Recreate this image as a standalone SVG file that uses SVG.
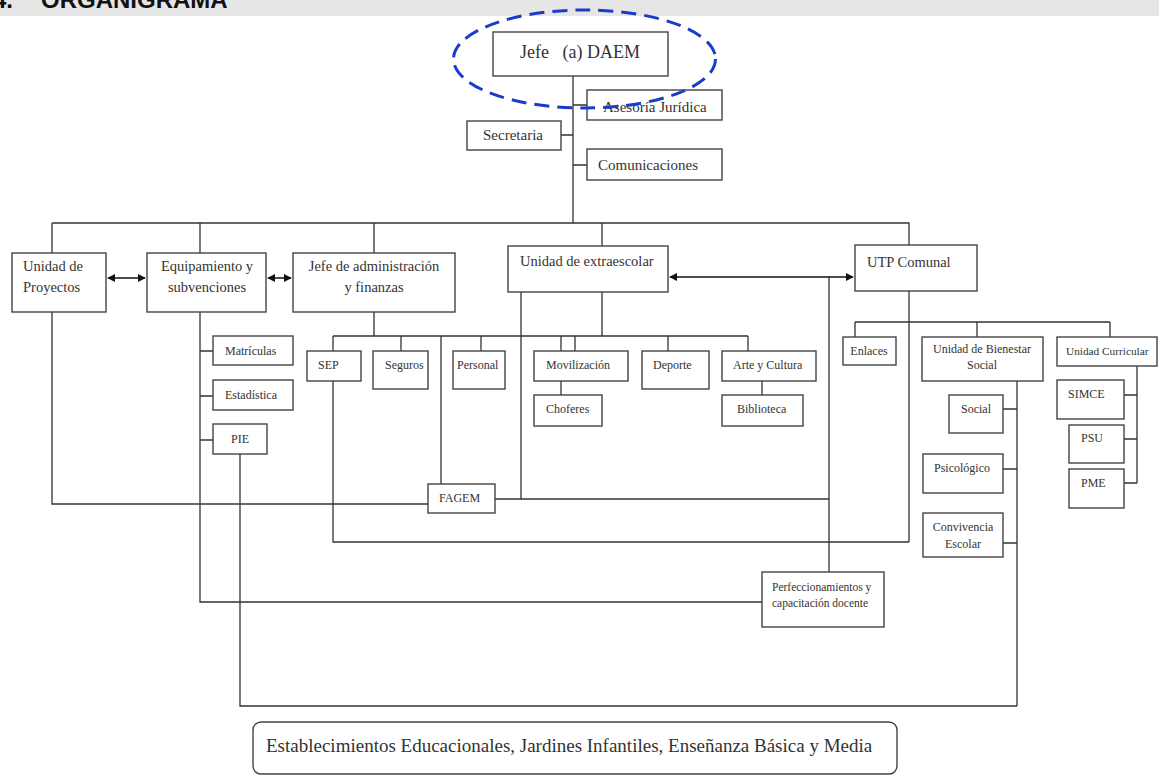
<svg xmlns="http://www.w3.org/2000/svg" width="1159" height="776" viewBox="0 0 1159 776">
<defs>
<marker id="ah" viewBox="0 0 10 10" refX="9" refY="5" markerWidth="8" markerHeight="8" markerUnits="userSpaceOnUse" orient="auto-start-reverse">
<path d="M0,0 L10,5 L0,10 z" fill="#111"/>
</marker>
<style>
.b{fill:#fff;stroke:#444;stroke-width:1.4}
.t{font-family:"Liberation Serif","Times New Roman",serif;fill:#333}
.L{font-size:14.5px}
.M{font-size:15px}
.S{font-size:12px}
.c{text-anchor:middle}
.ln{fill:none;stroke:#333;stroke-width:1.3}
.ar{fill:none;stroke:#111;stroke-width:1.5}
</style>
</defs>
<rect width="1159" height="776" fill="#fff"/>
<g id="header">
<rect x="0" y="0" width="1159" height="16" fill="#e6e6e6"/>
<text x="-7" y="8" font-family="Liberation Sans, Arial, sans-serif" font-size="24" font-weight="bold" fill="#111">4.</text>
<text x="41" y="8" font-family="Liberation Sans, Arial, sans-serif" font-size="24" font-weight="bold" fill="#111">ORGANIGRAMA</text>
</g>
<g id="connectors">
<path class="ln" d="M573,76 V223 M573,105 H587 M561,135 H573 M573,165 H587"/>
<path class="ln" d="M52,223 H909 V245 M52,223 V253 M200,223 V253 M374,223 V253 M602,223 V246"/>
<path class="ln" d="M52,312 V504 H428"/>
<path class="ln" d="M200,312 V602 H762 M200,351 H213 M200,396 H213 M200,440 H213"/>
<path class="ln" d="M240,454 V706 H1017"/>
<path class="ln" d="M374,312 V336 M333,336 H748 M333,336 V351 M401,336 V351 M441,336 V484 M481,336 V351 M561,336 V351 M575,336 V351 M668,336 V351 M748,336 V351 M602,292 V336"/>
<path class="ln" d="M333,381 V542 H909"/>
<path class="ln" d="M521,292 V499 M495,499 H829"/>
<path class="ln" d="M829,277 V572"/>
<path class="ln" d="M561,381 V395 M762,381 V395"/>
<path class="ln" d="M909,291 V542 M855,322 H1110 M855,322 V337 M977,322 V337 M1110,322 V337"/>
<path class="ln" d="M1017,381 V706 M1003,409 H1017 M1003,469 H1017 M1003,543 H1017"/>
<path class="ln" d="M1137,366 V483 M1124,395 H1137 M1124,439 H1137 M1124,483 H1137"/>
<path class="ar" d="M108,278 H145" marker-start="url(#ah)" marker-end="url(#ah)"/>
<path class="ar" d="M268,278 H291" marker-start="url(#ah)" marker-end="url(#ah)"/>
<path class="ar" d="M670,277 H853" marker-start="url(#ah)" marker-end="url(#ah)"/>
</g>
<g id="n-jefe"><rect class="b" x="493" y="32" width="175" height="44"/><text class="t c" x="580" y="58" font-size="18" xml:space="preserve">Jefe   (a) DAEM</text></g>
<g id="n-asesoria"><rect class="b" x="587" y="90" width="135" height="30"/><text class="t M" x="603" y="112">Asesoría Jurídica</text></g>
<g id="n-secretaria"><rect class="b" x="467" y="121" width="94" height="29"/><text class="t M c" x="513" y="140">Secretaria</text></g>
<g id="n-comunicaciones"><rect class="b" x="587" y="149" width="135" height="31"/><text class="t M" x="598" y="170">Comunicaciones</text></g>
<g id="n-proyectos"><rect class="b" x="12" y="253" width="94" height="59"/><text class="t L" x="23" y="271">Unidad de</text><text class="t L" x="23" y="292">Proyectos</text></g>
<g id="n-equipamiento"><rect class="b" x="147" y="253" width="119" height="59"/><text class="t L c" x="207" y="271">Equipamiento y</text><text class="t L c" x="207" y="292">subvenciones</text></g>
<g id="n-admin"><rect class="b" x="293" y="253" width="162" height="59"/><text class="t L c" x="374" y="271">Jefe de administración</text><text class="t L c" x="374" y="292">y finanzas</text></g>
<g id="n-extraescolar"><rect class="b" x="508" y="246" width="160" height="46"/><text class="t L" x="520" y="266">Unidad de extraescolar</text></g>
<g id="n-utp"><rect class="b" x="855" y="245" width="122" height="46"/><text class="t L" x="867" y="267">UTP Comunal</text></g>
<g id="n-matriculas"><rect class="b" x="213" y="336" width="80" height="29"/><text class="t S" x="225" y="355">Matrículas</text></g>
<g id="n-estadistica"><rect class="b" x="213" y="380" width="80" height="30"/><text class="t S" x="225" y="399">Estadística</text></g>
<g id="n-pie"><rect class="b" x="213" y="424" width="54" height="30"/><text class="t S" x="231" y="443">PIE</text></g>
<g id="n-sep"><rect class="b" x="307" y="351" width="54" height="30"/><text class="t S" x="318" y="369">SEP</text></g>
<g id="n-seguros"><rect class="b" x="373" y="351" width="55" height="38"/><text class="t S" x="385" y="369">Seguros</text></g>
<g id="n-personal"><rect class="b" x="453" y="351" width="52" height="38"/><text class="t S" x="457" y="369">Personal</text></g>
<g id="n-movilizacion"><rect class="b" x="534" y="351" width="94" height="30"/><text class="t S" x="546" y="369">Movilización</text></g>
<g id="n-deporte"><rect class="b" x="642" y="351" width="67" height="38"/><text class="t S" x="653" y="369">Deporte</text></g>
<g id="n-arte"><rect class="b" x="722" y="351" width="94" height="30"/><text class="t S" x="733" y="369">Arte y Cultura</text></g>
<g id="n-choferes"><rect class="b" x="534" y="395" width="68" height="31"/><text class="t S" x="546" y="413">Choferes</text></g>
<g id="n-biblioteca"><rect class="b" x="722" y="395" width="81" height="31"/><text class="t S" x="737" y="413">Biblioteca</text></g>
<g id="n-fagem"><rect class="b" x="428" y="484" width="67" height="29"/><text class="t S" x="439" y="502">FAGEM</text></g>
<g id="n-enlaces"><rect class="b" x="843" y="337" width="53" height="28"/><text class="t S c" x="869" y="355">Enlaces</text></g>
<g id="n-bienestar"><rect class="b" x="922" y="337" width="121" height="44"/><text class="t S c" x="982" y="353">Unidad de Bienestar</text><text class="t S c" x="982" y="369">Social</text></g>
<g id="n-curricular"><rect class="b" x="1057" y="337" width="100" height="29"/><text class="t" font-size="11.3" x="1066" y="355">Unidad Curricular</text></g>
<g id="n-social"><rect class="b" x="949" y="395" width="54" height="38"/><text class="t S" x="961" y="413">Social</text></g>
<g id="n-psicologico"><rect class="b" x="923" y="454" width="80" height="39"/><text class="t S" x="934" y="472">Psicológico</text></g>
<g id="n-convivencia"><rect class="b" x="923" y="513" width="80" height="44"/><text class="t S c" x="963" y="531">Convivencia</text><text class="t S c" x="963" y="548">Escolar</text></g>
<g id="n-simce"><rect class="b" x="1057" y="380" width="67" height="39"/><text class="t S" x="1068" y="398">SIMCE</text></g>
<g id="n-psu"><rect class="b" x="1069" y="425" width="55" height="38"/><text class="t S" x="1081" y="442">PSU</text></g>
<g id="n-pme"><rect class="b" x="1069" y="469" width="55" height="39"/><text class="t S" x="1081" y="487">PME</text></g>
<g id="n-perfeccionamientos"><rect class="b" x="762" y="572" width="122" height="55"/><text class="t" font-size="11.5" x="772" y="591">Perfeccionamientos y</text><text class="t" font-size="11.5" x="772" y="607">capacitación docente</text></g>
<g id="n-establecimientos"><rect class="b" x="253" y="722" width="644" height="52" rx="8"/><text class="t" x="266" y="752" font-size="19">Establecimientos Educacionales, Jardines Infantiles, Enseñanza Básica y Media</text></g>
<g id="highlight"><ellipse cx="584.5" cy="59" rx="131" ry="49" fill="none" stroke="#1a3cc8" stroke-width="3" stroke-dasharray="15 8"/></g>
</svg>
